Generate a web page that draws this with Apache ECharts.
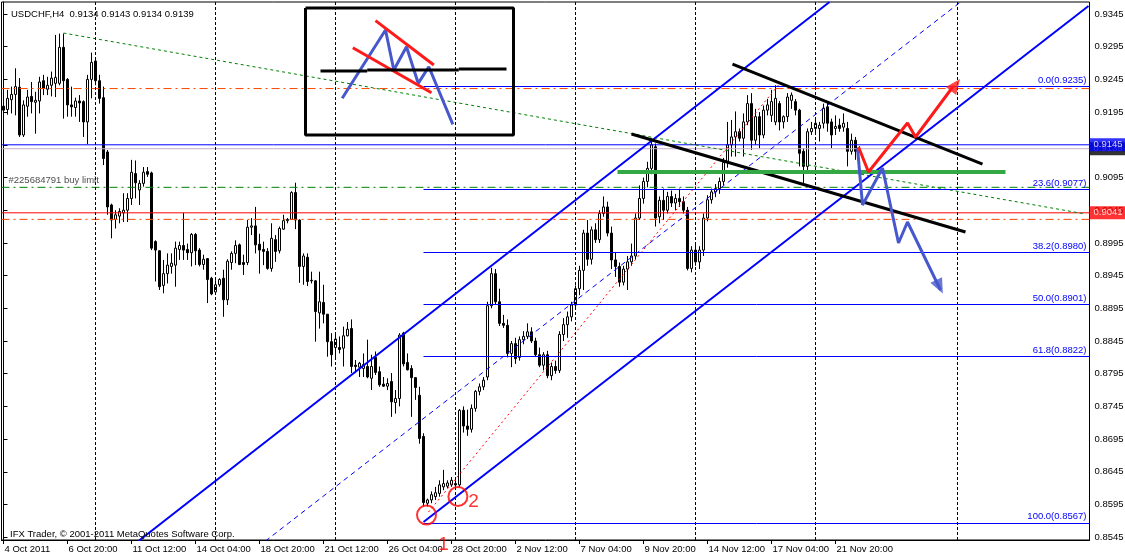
<!DOCTYPE html>
<html><head><meta charset="utf-8">
<script src="https://cdn.jsdelivr.net/npm/echarts@6/dist/echarts.min.js"></script>
<style>html,body{margin:0;padding:0;background:#fff}#c{width:1125px;height:557px}</style>
</head><body><div id="c"></div>
<script>
const FONT = '"Liberation Sans", Arial, sans-serif';
const titleText = 'USDCHF,H4  0.9134 0.9143 0.9134 0.9139';
const footerText = 'IFX Trader, \u00a9 2001-2011 MetaQuotes Software Corp.';
const orderText = '#225684791 buy limit';

// time axis: one label every 16 H4 bars
const tickLabels = ['4 Oct 2011','6 Oct 20:00','11 Oct 12:00','14 Oct 04:00','18 Oct 20:00','21 Oct 12:00','26 Oct 04:00','28 Oct 20:00','2 Nov 12:00','7 Nov 04:00','9 Nov 20:00','14 Nov 12:00','17 Nov 04:00','21 Nov 20:00'];
const tickStep = 16;
const slotCount = 272;            // bars + empty future space
const weekStarts = [23, 53, 83, 113, 143, 173, 203, 238.5];

// price axis
const priceMin = 0.854073, priceMax = 0.936335;
const priceTicks = [0.8545,0.8595,0.8645,0.8695,0.8745,0.8795,0.8845,0.8895,0.8945,0.8995,0.9045,0.9095,0.9145,0.9195,0.9245,0.9295,0.9345];

// H4 bars: [open, high, low, close]
const ohlc = [
[0.9204,0.9213,0.9188,0.9198],[0.9199,0.9229,0.9191,0.9216],[0.9214,0.9234,0.9193,0.9222],[0.9222,0.9262,0.9190,0.9234],
[0.9233,0.9247,0.9157,0.9160],[0.9160,0.9213,0.9157,0.9206],[0.9204,0.9229,0.9188,0.9218],[0.9219,0.9241,0.9193,0.9211],
[0.9210,0.9226,0.9162,0.9213],[0.9212,0.9249,0.9193,0.9241],[0.9243,0.9252,0.9221,0.9231],[0.9230,0.9249,0.9221,0.9236],
[0.9236,0.9257,0.9219,0.9247],[0.9239,0.9313,0.9218,0.9248],[0.9239,0.9315,0.9236,0.9294],[0.9294,0.9315,0.9185,0.9243],
[0.9245,0.9247,0.9188,0.9206],[0.9206,0.9234,0.9188,0.9203],[0.9202,0.9217,0.9188,0.9212],[0.9212,0.9221,0.9180,0.9209],
[0.9211,0.9213,0.9157,0.9180],[0.9180,0.9252,0.9146,0.9245],[0.9245,0.9286,0.9216,0.9271],[0.9273,0.9275,0.9236,0.9243],
[0.9243,0.9252,0.9208,0.9216],[0.9217,0.9234,0.9114,0.9124],[0.9134,0.9137,0.9038,0.9050],[0.9053,0.9055,0.9002,0.9030],
[0.9031,0.9045,0.9017,0.9038],[0.9036,0.9048,0.9025,0.9043],[0.9041,0.9071,0.9027,0.9045],[0.9045,0.9071,0.9027,0.9063],
[0.9063,0.9122,0.9053,0.9103],[0.9101,0.9121,0.9063,0.9087],[0.9076,0.9091,0.9053,0.9086],[0.9086,0.9111,0.9081,0.9103],
[0.9104,0.9111,0.9096,0.9100],[0.9102,0.9104,0.8984,0.8987],[0.8997,0.8999,0.8936,0.8984],[0.8983,0.8984,0.8923,0.8928],
[0.8930,0.8969,0.8918,0.8948],[0.8948,0.8979,0.8933,0.8961],[0.8959,0.8979,0.8948,0.8964],[0.8961,0.8997,0.8928,0.8987],
[0.8985,0.8997,0.8969,0.8991],[0.8991,0.9041,0.8969,0.8984],[0.8985,0.8994,0.8969,0.8980],[0.8980,0.9010,0.8959,0.9008],
[0.9008,0.9010,0.8961,0.8983],[0.8984,0.8987,0.8959,0.8962],[0.8962,0.8977,0.8954,0.8970],[0.8971,0.8971,0.8903,0.8939],
[0.8941,0.8943,0.8915,0.8917],[0.8920,0.8938,0.8918,0.8931],[0.8931,0.8941,0.8928,0.8939],[0.8941,0.8954,0.8882,0.8908],
[0.8908,0.8970,0.8900,0.8967],[0.8965,0.8982,0.8954,0.8979],[0.8979,0.8999,0.8964,0.8991],[0.8992,0.8994,0.8961,0.8962],
[0.8965,0.8977,0.8946,0.8962],[0.8965,0.9030,0.8961,0.9019],[0.9019,0.9033,0.9007,0.9021],[0.9021,0.9050,0.8979,0.8992],
[0.8993,0.9009,0.8948,0.8984],[0.8985,0.8997,0.8961,0.8982],[0.8982,0.8987,0.8954,0.8956],[0.8956,0.9025,0.8951,0.9002],
[0.9000,0.9007,0.8966,0.8982],[0.8983,0.9020,0.8979,0.9017],[0.9016,0.9038,0.9015,0.9029],[0.9029,0.9033,0.9025,0.9031],
[0.9031,0.9074,0.9030,0.9072],[0.9072,0.9087,0.9016,0.9030],[0.9030,0.9031,0.8934,0.8959],[0.8959,0.8979,0.8931,0.8975],
[0.8973,0.8979,0.8929,0.8936],[0.8938,0.8951,0.8933,0.8937],[0.8937,0.8938,0.8844,0.8890],[0.8888,0.8951,0.8864,0.8905],
[0.8904,0.8931,0.8872,0.8886],[0.8886,0.8886,0.8821,0.8844],[0.8844,0.8857,0.8806,0.8824],[0.8835,0.8857,0.8818,0.8848],
[0.8835,0.8852,0.8826,0.8832],[0.8834,0.8867,0.8806,0.8853],[0.8853,0.8874,0.8852,0.8863],[0.8864,0.8878,0.8796,0.8806],
[0.8808,0.8816,0.8796,0.8806],[0.8805,0.8813,0.8790,0.8811],[0.8803,0.8826,0.8790,0.8809],[0.8806,0.8847,0.8788,0.8790],
[0.8788,0.8824,0.8770,0.8806],[0.8820,0.8829,0.8793,0.8797],[0.8798,0.8806,0.8775,0.8778],[0.8779,0.8790,0.8775,0.8776],
[0.8776,0.8788,0.8770,0.8780],[0.8783,0.8796,0.8729,0.8752],[0.8751,0.8770,0.8734,0.8757],[0.8757,0.8857,0.8745,0.8854],
[0.8857,0.8859,0.8806,0.8810],[0.8812,0.8826,0.8800,0.8801],[0.8803,0.8808,0.8729,0.8789],[0.8789,0.8790,0.8755,0.8774],
[0.8762,0.8775,0.8688,0.8696],[0.8699,0.8704,0.8592,0.8598],[0.8597,0.8604,0.8592,0.8602],[0.8602,0.8615,0.8597,0.8610],
[0.8607,0.8622,0.8602,0.8613],[0.8612,0.8632,0.8607,0.8625],[0.8622,0.8648,0.8617,0.8627],[0.8623,0.8632,0.8620,0.8628],
[0.8625,0.8637,0.8622,0.8632],[0.8627,0.8632,0.8622,0.8625],[0.8625,0.8741,0.8622,0.8739],[0.8739,0.8745,0.8705,0.8715],
[0.8715,0.8740,0.8700,0.8710],[0.8710,0.8748,0.8705,0.8742],[0.8742,0.8770,0.8737,0.8768],[0.8768,0.8780,0.8762,0.8775],
[0.8775,0.8790,0.8770,0.8785],[0.8790,0.8905,0.8785,0.8899],[0.8899,0.8957,0.8895,0.8948],[0.8948,0.8955,0.8900,0.8905],
[0.8905,0.8925,0.8868,0.8872],[0.8872,0.8885,0.8865,0.8869],[0.8869,0.8878,0.8820,0.8826],[0.8826,0.8845,0.8805,0.8841],
[0.8841,0.8850,0.8810,0.8818],[0.8820,0.8852,0.8815,0.8847],[0.8847,0.8860,0.8840,0.8852],[0.8852,0.8872,0.8848,0.8859],
[0.8859,0.8866,0.8842,0.8845],[0.8845,0.8850,0.8822,0.8824],[0.8824,0.8835,0.8805,0.8808],[0.8808,0.8828,0.8800,0.8824],
[0.8824,0.8830,0.8788,0.8792],[0.8792,0.8812,0.8785,0.8806],[0.8806,0.8815,0.8795,0.8800],[0.8800,0.8860,0.8796,0.8855],
[0.8855,0.8880,0.8845,0.8870],[0.8870,0.8890,0.8850,0.8882],[0.8882,0.8905,0.8875,0.8900],[0.8900,0.8930,0.8895,0.8925],
[0.8925,0.8960,0.8915,0.8953],[0.8953,0.9015,0.8923,0.9010],[0.9010,0.9030,0.8960,0.8970],[0.8970,0.9020,0.8962,0.9015],
[0.9015,0.9025,0.8995,0.9000],[0.9000,0.9045,0.8995,0.9040],[0.9040,0.9066,0.9035,0.9050],[0.9050,0.9058,0.9005,0.9010],
[0.9010,0.9020,0.8955,0.8969],[0.8969,0.8980,0.8943,0.8959],[0.8959,0.8965,0.8928,0.8935],[0.8935,0.8960,0.8930,0.8955],
[0.8955,0.8975,0.8923,0.8966],[0.8966,0.8994,0.8960,0.8975],[0.8975,0.9040,0.8970,0.9033],[0.9033,0.9083,0.9030,0.9063],
[0.9063,0.9095,0.9055,0.9089],[0.9089,0.9119,0.9080,0.9109],[0.9109,0.9155,0.9100,0.9145],[0.9142,0.9147,0.9020,0.9033],
[0.9035,0.9066,0.9025,0.9060],[0.9060,0.9078,0.9030,0.9045],[0.9045,0.9073,0.9040,0.9066],[0.9066,0.9075,0.9050,0.9056],
[0.9056,0.9070,0.9045,0.9063],[0.9063,0.9078,0.9050,0.9058],[0.9058,0.9066,0.9040,0.9045],[0.9045,0.9050,0.8953,0.8956],
[0.8956,0.8990,0.8950,0.8984],[0.8984,0.8994,0.8960,0.8966],[0.8966,0.8990,0.8955,0.8984],[0.8984,0.9040,0.8975,0.9033],
[0.9033,0.9068,0.9028,0.9061],[0.9061,0.9078,0.9055,0.9073],[0.9073,0.9085,0.9065,0.9078],[0.9078,0.9095,0.9070,0.9089],
[0.9089,0.9125,0.9083,0.9118],[0.9118,0.9180,0.9110,0.9145],[0.9145,0.9183,0.9127,0.9157],[0.9157,0.9196,0.9127,0.9165],
[0.9165,0.9170,0.9150,0.9155],[0.9155,0.9193,0.9127,0.9180],[0.9180,0.9221,0.9175,0.9208],[0.9208,0.9224,0.9137,0.9152],
[0.9152,0.9200,0.9145,0.9188],[0.9188,0.9195,0.9140,0.9160],[0.9160,0.9205,0.9155,0.9198],[0.9198,0.9215,0.9190,0.9206],
[0.9190,0.9229,0.9180,0.9211],[0.9180,0.9236,0.9175,0.9216],[0.9208,0.9212,0.9167,0.9180],[0.9180,0.9190,0.9170,0.9188],
[0.9188,0.9224,0.9180,0.9218],[0.9213,0.9225,0.9200,0.9221],[0.9211,0.9215,0.9190,0.9198],[0.9198,0.9200,0.9112,0.9132],
[0.9135,0.9140,0.9086,0.9112],[0.9112,0.9170,0.9105,0.9165],[0.9165,0.9180,0.9160,0.9170],[0.9170,0.9185,0.9160,0.9178],
[0.9170,0.9180,0.9150,0.9175],[0.9178,0.9208,0.9170,0.9201],[0.9203,0.9210,0.9165,0.9178],[0.9180,0.9185,0.9140,0.9160],
[0.9170,0.9190,0.9160,0.9173],[0.9175,0.9185,0.9165,0.9170],[0.9172,0.9193,0.9165,0.9178],[0.9170,0.9180,0.9112,0.9135],
[0.9135,0.9162,0.9130,0.9152],[0.9152,0.9157,0.9122,0.9135],[0.9134,0.9143,0.9134,0.9139]
];

// horizontal levels across the whole chart
const askLevel = 0.9145, bidLevel = 0.9139, lossLevel = 0.9041;
const orderLevel = 0.9080;
const dashLevels = [0.9231, 0.9031];

// Fibonacci retracement
const fibStart = 105;
const fibLevels = [['0.0', 0.9235], ['23.6', 0.9077], ['38.2', 0.8980], ['50.0', 0.8901], ['61.8', 0.8822], ['100.0', 0.8567]];

// drawn objects, [bar index, price]
const channelUpper = [[33.75, 0.85392], [206.5, 0.93633]];
const channelLower = [[105, 0.85682], [271.25, 0.93572]];
const channelMid = [[65.5, 0.85392], [239.25, 0.93633]];
const fibTrend = [[106.25, 0.85835], [193.75, 0.92364]];
const greenTrend = [[15, 0.93159], [270.5, 0.90392]];
const wedgeTop = [[182.25, 0.92685], [244.75, 0.91156]];
const wedgeBottom = [[157, 0.91615], [240.5, 0.90117]];
const neckline = [[153.5, 0.91034], [250.5, 0.91034]];
const redPath = [[213.75, 0.91416], [216.25, 0.91034], [226, 0.91783], [228, 0.91569], [237.5, 0.92349]];
const bluePath = [[213.5, 0.91401], [214.75, 0.90530], [219.75, 0.91095], [223.75, 0.89948], [226, 0.90270], [234.25, 0.89230]];
const redArrowTip = [238.0, 0.92364];
const blueArrowTip = [234.0, 0.89280];
const insetFrame = [[75.5, 0.93542], [127.5, 0.93542], [127.5, 0.91600], [75.5, 0.91600], [75.5, 0.93542]];
const insetZigzag = [[84.68, 0.92161], [95.5, 0.93205], [97.58, 0.92594], [100.75, 0.92950], [103.68, 0.92390], [106.33, 0.92644], [112.33, 0.91763]];
const insetRedLow = [[87.33, 0.92935], [107, 0.92247]];
const insetRedHigh = [[93, 0.93348], [107.58, 0.92670]];
const insetNeck = [[[79.25, 0.92578], [90.93, 0.92578]], [[90.93, 0.92594], [113.83, 0.92594]], [[113.83, 0.92609], [125.75, 0.92609]]];
const circles = [[105.75, 0.85789], [113.6, 0.86072]];
const circleTexts = [['1', 110, 0.85331], ['2', 117.5, 0.85988]];
const orderTextAt = [1.25, 0.9080];
const priceBoxes = [['0.9139', '#000000'], ['0.9145', '#0000ff'], ['0.9041', '#ff0000']];

const chart = echarts.init(document.getElementById('c'), null, {renderer: 'canvas'});
const xEnd = slotCount - 0.5;
const xStart = -0.5;

function seg(data, color, width, type, z) {
  return {type: 'line', xAxisIndex: 1, data: data, showSymbol: false, symbol: 'none', silent: true, z: z || 5,
    lineStyle: {color: color, width: width, type: type || 'solid'}, animation: false};
}
function hline(p, color, type, z) {
  return seg([[xStart, p], [xEnd, p]], color, 1, type, z || 3);
}

const series = [];
// weekly grid
series.push({type: 'line', xAxisIndex: 1, data: [], z: 1, silent: true,
  markLine: {silent: true, symbol: ['none', 'none'], label: {show: false}, animation: false,
    lineStyle: {color: '#000', width: 1, type: [3, 2]},
    data: weekStarts.map(v => ({xAxis: v}))}});
// candles
series.push({type: 'candlestick', xAxisIndex: 0, z: 2, barWidth: 2,
  data: ohlc.map(r => [r[0], r[3], r[2], r[1]]),
  itemStyle: {color: '#ffffff', color0: '#000000', borderColor: '#000000', borderColor0: '#000000', borderWidth: 1}});
// horizontal levels
series.push(hline(bidLevel, '#c4acc4', 'solid'));
series.push(hline(askLevel, '#0000ff', 'solid'));
series.push(hline(lossLevel, '#ff0000', 'solid'));
series.push(hline(orderLevel, '#008000', [8, 4, 2, 4]));
dashLevels.forEach(v => series.push(hline(v, '#ff4500', [8, 4, 2, 4])));
// fib lines
series.push({type: 'line', xAxisIndex: 1, data: [], z: 3, silent: true,
  markLine: {silent: true, symbol: ['none', 'none'], animation: false,
    lineStyle: {color: '#0000ff', width: 1, type: 'solid'},
    label: {show: true, position: 'insideEndTop', distance: [3, 1], color: '#0000ff', fontFamily: FONT, fontSize: 9.5},
    data: fibLevels.map(f => [{coord: [fibStart, f[1]], label: {formatter: f[0] + '(' + f[1].toFixed(4) + ')'}}, {coord: [xEnd, f[1]]}])}});
// drawn objects
series.push(seg(greenTrend, '#008000', 1, [3, 3], 4));
series.push(seg(fibTrend, '#ff0000', 1, [2, 3], 4));
series.push(seg(channelMid, '#0000ff', 1, [5, 4], 4));
series.push(seg(channelUpper, '#0000ff', 2, 'solid', 5));
series.push(seg(channelLower, '#0000ff', 2, 'solid', 5));
series.push(seg(wedgeTop, '#000000', 3, 'solid', 5));
series.push(seg(wedgeBottom, '#000000', 3, 'solid', 5));
series.push(seg(neckline, '#33a845', 4, 'solid', 5));
series.push(seg(bluePath, '#4658cc', 3, 'solid', 6));
series.push(seg(redPath, '#ff1a1a', 3, 'solid', 7));
series.push(seg(insetFrame, '#000000', 3, 'solid', 5));
series.push(seg(insetZigzag, '#4658cc', 3, 'solid', 6));
series.push(seg(insetRedLow, '#ff1a1a', 3, 'solid', 7));
series.push(seg(insetRedHigh, '#ff1a1a', 3, 'solid', 7));
insetNeck.forEach(s => series.push(seg(s, '#000000', 3, 'solid', 8)));
// arrow heads
series.push({type: 'scatter', xAxisIndex: 1, z: 7, silent: true, clip: false, symbol: 'triangle',
  data: [
    {value: redArrowTip, symbolRotate: -37, symbolSize: [13, 15], itemStyle: {color: '#ff1a1a'}},
    {value: blueArrowTip, symbolRotate: -154, symbolSize: [13, 15], itemStyle: {color: '#4658cc'}}
  ]});
// circles
series.push({type: 'scatter', xAxisIndex: 1, z: 8, silent: true, clip: false, symbol: 'circle', symbolSize: 19,
  itemStyle: {color: 'rgba(0,0,0,0)', borderColor: '#ff0000', borderWidth: 2}, data: circles});
// texts
series.push({type: 'scatter', xAxisIndex: 1, z: 9, silent: true, clip: false, symbolSize: 0,
  data: circleTexts.map(t => ({value: [t[1], t[2]], label: {formatter: t[0]}})),
  label: {show: true, position: 'inside', color: '#ff0000', fontSize: 19, fontFamily: FONT}});
series.push({type: 'scatter', xAxisIndex: 1, z: 9, silent: true, clip: false, symbolSize: 0,
  data: [orderTextAt],
  label: {show: true, position: [0, -12], color: '#202020', fontSize: 9.5, fontFamily: FONT, formatter: orderText}});
// price boxes on axis
priceBoxes.forEach((b, k) => series.push({type: 'scatter', xAxisIndex: 1, z: 20 + k, silent: true, clip: false, symbolSize: 0,
  data: [[xEnd, parseFloat(b[0])]],
  label: {show: true, position: 'right', distance: 0, formatter: b[0], color: '#ffffff', backgroundColor: b[1],
    padding: [2, 4, 1, 4], fontSize: 9.5, fontFamily: FONT}}));

chart.setOption({
  animation: false,
  backgroundColor: '#ffffff',
  textStyle: {fontFamily: FONT},
  title: [
    {text: titleText, left: 6, top: 4, textStyle: {fontSize: 9.5, fontWeight: 'normal', color: '#000', fontFamily: FONT}},
    {text: footerText, left: 5, top: 524, textStyle: {fontSize: 9.5, fontWeight: 'normal', color: '#000', fontFamily: FONT}}
  ],
  grid: {left: 1.5, top: 2, width: slotCount * 4, height: 538, show: true, borderColor: '#000', borderWidth: 1,
    containLabel: false, outerBoundsMode: 'none'},
  xAxis: [
    {type: 'category', data: Array.from({length: slotCount}, (_, k) => k), boundaryGap: true,
      axisLine: {show: true, lineStyle: {color: '#000'}},
      axisTick: {show: true, alignWithLabel: true, length: 4, lineStyle: {color: '#000'},
        interval: (idx) => idx % tickStep === 0 && idx / tickStep < tickLabels.length},
      axisLabel: {show: true, color: '#000', fontSize: 9.5, fontFamily: FONT, align: 'left', margin: 4, padding: [0, 0, 0, 1],
        interval: (idx) => idx % tickStep === 0 && idx / tickStep < tickLabels.length,
        formatter: (v, idx) => tickLabels[idx / tickStep] || ''},
      splitLine: {show: false}},
    {type: 'value', min: xStart, max: xEnd, show: false, splitLine: {show: false}}
  ],
  yAxis: {type: 'value', position: 'right', min: priceMin, max: priceMax, scale: true,
    axisLine: {show: true, lineStyle: {color: '#000'}},
    axisTick: {show: true, length: 4, lineStyle: {color: '#000'}, customValues: priceTicks},
    axisLabel: {show: true, color: '#000', fontSize: 9.5, fontFamily: FONT, margin: 5, customValues: priceTicks,
      formatter: v => v.toFixed(4)},
    splitLine: {show: false}},
  series: series
});
</script></body></html>
